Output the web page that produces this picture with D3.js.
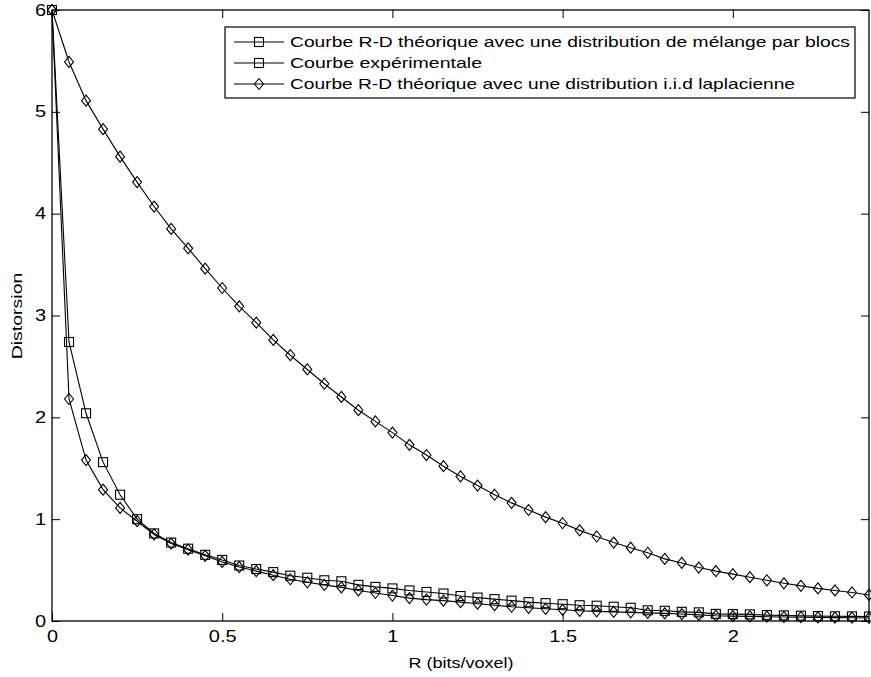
<!DOCTYPE html>
<html><head><meta charset="utf-8">
<script src="https://cdn.jsdelivr.net/npm/d3@7/dist/d3.min.js"></script>
<style>
html,body{margin:0;padding:0;background:#fff;}
svg{display:block;font-family:"Liberation Sans",Arial,sans-serif;}
</style></head>
<body>
<svg id="chart" width="871" height="677"></svg>
<script>
// ---- data ----
const rates = [0,0.05,0.1,0.15,0.2,0.25,0.3,0.35,0.4,0.45,0.5,0.55,0.6,0.65,0.7,0.75,0.8,0.85,0.9,0.95,
  1,1.05,1.1,1.15,1.2,1.25,1.3,1.35,1.4,1.45,1.5,1.55,1.6,1.65,1.7,1.75,1.8,1.85,1.9,1.95,
  2,2.05,2.1,2.15,2.2,2.25,2.3,2.35,2.4];
const mixtureTheory = [6.0,2.74,2.04,1.56,1.24,1.00,0.86,0.77,0.71,0.65,0.60,0.545,0.51,0.48,0.445,0.425,0.40,0.39,0.355,0.335,
  0.32,0.30,0.285,0.27,0.245,0.23,0.215,0.20,0.185,0.175,0.165,0.155,0.15,0.14,0.13,0.105,0.10,0.09,0.085,0.07,
  0.068,0.065,0.058,0.055,0.052,0.048,0.046,0.045,0.044];
const experimental = [6.0,2.18,1.58,1.29,1.11,0.98,0.85,0.76,0.70,0.64,0.58,0.53,0.49,0.45,0.41,0.38,0.355,0.33,0.30,0.275,
  0.25,0.225,0.21,0.20,0.185,0.17,0.155,0.14,0.13,0.12,0.11,0.10,0.095,0.09,0.085,0.08,0.075,0.068,0.06,0.052,
  0.048,0.045,0.042,0.04,0.038,0.035,0.033,0.032,0.03];
const laplacianTheory = [6.0,5.49,5.11,4.83,4.56,4.31,4.07,3.85,3.66,3.46,3.27,3.09,2.93,2.76,2.61,2.47,2.33,2.20,2.07,1.96,
  1.85,1.73,1.63,1.52,1.42,1.33,1.24,1.16,1.09,1.02,0.96,0.89,0.83,0.77,0.72,0.67,0.61,0.57,0.525,0.49,
  0.46,0.43,0.40,0.37,0.345,0.32,0.30,0.28,0.256];
const seriesNames = [
  "Courbe R-D théorique avec une distribution de mélange par blocs",
  "Courbe expérimentale",
  "Courbe R-D théorique avec une distribution i.i.d laplacienne"
];
const legendMarkers = ["square","square","diamond"];
const plotMarkers = ["square","diamond","diamond"];
const xTicks = [0,0.5,1,1.5,2];
const xTickLabels = ["0","0.5","1","1.5","2"];
const yTicks = [0,1,2,3,4,5,6];
const yTickLabels = ["0","1","2","3","4","5","6"];
const xTitle = "R (bits/voxel)";
const yTitle = "Distorsion";

// ---- layout ----
const L = 52, Rt = 869, T = 10, B = 621;
const svg = d3.select("#chart");
const x = d3.scaleLinear().domain([0, 2.4]).range([L, Rt]);
const y = d3.scaleLinear().domain([0, 6]).range([B, T]);

function stretch(sel, factor){
  sel.each(function(){
    const w = this.getComputedTextLength();
    this.setAttribute("textLength", (w*factor).toFixed(1));
    this.setAttribute("lengthAdjust","spacingAndGlyphs");
  });
}

// axes
const fmtX = d => xTickLabels[xTicks.indexOf(d)];
const fmtY = d => yTickLabels[yTicks.indexOf(d)];
const gx = svg.append("g").attr("transform",`translate(0,${B})`)
  .call(d3.axisBottom(x).tickValues(xTicks).tickFormat(fmtX).tickSizeInner(-8).tickSizeOuter(0).tickPadding(10));
const gxt = svg.append("g").attr("transform",`translate(0,${T})`)
  .call(d3.axisTop(x).tickValues(xTicks).tickFormat("").tickSizeInner(-8).tickSizeOuter(0));
const gy = svg.append("g").attr("transform",`translate(${L},0)`)
  .call(d3.axisLeft(y).tickValues(yTicks).tickFormat(fmtY).tickSizeInner(-8).tickSizeOuter(0).tickPadding(6));
const gyr = svg.append("g").attr("transform",`translate(${Rt},0)`)
  .call(d3.axisRight(y).tickValues(yTicks).tickFormat("").tickSizeInner(-8).tickSizeOuter(0));
[gx,gxt,gy,gyr].forEach(g=>{
  g.select(".domain").remove();
  g.selectAll(".tick line").attr("stroke","#000").attr("stroke-width",1);
  g.selectAll("text").attr("fill","#000").attr("font-size",16).attr("font-family","Liberation Sans, Arial, sans-serif");
});
stretch(gx.selectAll("text"),1.25);
stretch(gy.selectAll("text"),1.25);

// box
svg.append("rect").attr("x",L).attr("y",T).attr("width",Rt-L).attr("height",B-T)
  .attr("fill","none").attr("stroke","#000").attr("stroke-width",1.3);

// axis titles
const xt = svg.append("text").attr("x",461).attr("y",668).attr("text-anchor","middle")
  .attr("font-size",15).text(xTitle);
stretch(xt,1.2);
const yt = svg.append("text").attr("transform","translate(22,316) rotate(-90)").attr("text-anchor","middle")
  .attr("font-size",15).text(yTitle);
stretch(yt,1.3);

// markers
function drawMarker(g, type, cx, cy){
  if(type==="square"){
    g.append("rect").attr("x",cx-4.5).attr("y",cy-4.5).attr("width",9).attr("height",9)
      .attr("fill","none").attr("stroke","#000").attr("stroke-width",1.1);
  } else {
    g.append("path").attr("d",`M${cx},${cy-5.5}L${cx+4.5},${cy}L${cx},${cy+5.5}L${cx-4.5},${cy}Z`)
      .attr("fill","none").attr("stroke","#000").attr("stroke-width",1.1);
  }
}

const allSeries = [mixtureTheory, experimental, laplacianTheory];
const line = d3.line().x((d,i)=>x(rates[i])).y(d=>y(d));
allSeries.forEach((vals, si)=>{
  const g = svg.append("g");
  g.append("path").datum(vals).attr("d",line).attr("fill","none").attr("stroke","#000").attr("stroke-width",1.1);
  vals.forEach((v,i)=>drawMarker(g, plotMarkers[si], x(rates[i]), y(v)));
});

// legend
const lg = svg.append("g");
lg.append("rect").attr("x",225).attr("y",27).attr("width",630).attr("height",71)
  .attr("fill","#fff").attr("stroke","#000").attr("stroke-width",1.2);
const rowY = [42, 63, 84];
const textW = [560, 192, 505];
seriesNames.forEach((name,i)=>{
  lg.append("line").attr("x1",234).attr("x2",284).attr("y1",rowY[i]).attr("y2",rowY[i])
    .attr("stroke","#000").attr("stroke-width",1.1);
  drawMarker(lg, legendMarkers[i], 259, rowY[i]);
  lg.append("text").attr("x",290).attr("y",rowY[i]+5).attr("font-size",15)
    .attr("textLength",textW[i]).attr("lengthAdjust","spacingAndGlyphs").text(name);
});
</script>
</body></html>
